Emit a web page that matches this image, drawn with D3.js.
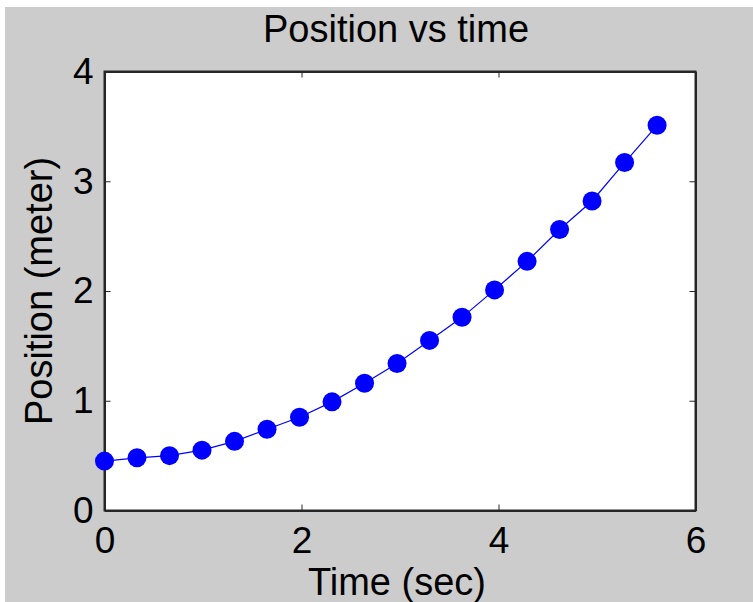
<!DOCTYPE html>
<meta charset="utf-8">
<html lang="en">
<style>
body { margin: 0; background: #fff; }
.axis text { font: 37px "Liberation Sans", Arial, sans-serif; fill: #000; }
.axis path, .axis line { stroke: #262626; }
.label { font: 38px "Liberation Sans", Arial, sans-serif; fill: #000; }
.line { fill: none; stroke: #00f; stroke-width: 1.2px; }
.dot { fill: #00f; }
</style>
<body>
<div id="chart"></div>
<script src="https://cdn.jsdelivr.net/npm/d3@7"></script>
<script>
// time (sec) and position (meter)
var timeVals = [0, 0.33, 0.66, 0.99, 1.32, 1.65, 1.98, 2.31, 2.64, 2.97, 3.30, 3.63, 3.96, 4.29, 4.62, 4.95, 5.28, 5.61];
var posVals  = [0.45, 0.48, 0.50, 0.55, 0.63, 0.74, 0.85, 0.99, 1.16, 1.34, 1.55, 1.76, 2.01, 2.27, 2.56, 2.82, 3.17, 3.51];
var xTicks = [0, 2, 4, 6];
var yTicks = [0, 1, 2, 3, 4];

var W = 753, H = 602,
    margin = {top: 71.5, right: 57.5, bottom: 91.5, left: 104.5},
    width = W - margin.left - margin.right,
    height = H - margin.top - margin.bottom;

var data = timeVals.map(function(t, i) { return {t: t, p: posVals[i]}; });

var svg = d3.select("#chart").append("svg")
    .attr("width", W)
    .attr("height", H);

// figure background
svg.append("rect")
    .attr("x", 5).attr("y", 7)
    .attr("width", W - 5).attr("height", H - 7)
    .attr("fill", "#cccccc");

var g = svg.append("g")
    .attr("transform", "translate(" + margin.left + "," + margin.top + ")");

g.append("rect")
    .attr("width", width).attr("height", height)
    .attr("fill", "#fff");

var x = d3.scaleLinear().domain([0, 6]).range([0, width]);
var y = d3.scaleLinear().domain([0, 4]).range([height, 0]);

// axes with inward ticks, mirrored on top and right
g.append("g")
    .attr("class", "axis")
    .attr("transform", "translate(0," + height + ")")
    .call(d3.axisBottom(x).tickValues(xTicks).tickSizeInner(-6).tickSizeOuter(0).tickPadding(16).tickFormat(d3.format("d")));
g.append("g")
    .attr("class", "axis")
    .call(d3.axisTop(x).tickValues(xTicks).tickSizeInner(-6).tickSizeOuter(0).tickFormat(""));
g.append("g")
    .attr("class", "axis")
    .call(d3.axisLeft(y).tickValues(yTicks).tickSizeInner(-6).tickSizeOuter(0).tickPadding(11).tickFormat(d3.format("d")));
g.append("g")
    .attr("class", "axis")
    .attr("transform", "translate(" + width + ",0)")
    .call(d3.axisRight(y).tickValues(yTicks).tickSizeInner(-6).tickSizeOuter(0).tickFormat(""));

g.selectAll(".axis path").attr("stroke-width", 2);
g.selectAll(".axis text").attr("fill", "#000");

// box outline
g.append("rect")
    .attr("width", width).attr("height", height)
    .attr("fill", "none")
    .attr("stroke", "#262626")
    .attr("stroke-width", 2);

var line = d3.line()
    .x(function(d) { return x(d.t); })
    .y(function(d) { return y(d.p); });

g.append("path")
    .datum(data)
    .attr("class", "line")
    .attr("d", line);

g.selectAll(".dot")
    .data(data)
  .enter().append("circle")
    .attr("class", "dot")
    .attr("cx", function(d) { return x(d.t); })
    .attr("cy", function(d) { return y(d.p); })
    .attr("r", 9.5);

// titles
svg.append("text")
    .attr("class", "label")
    .attr("x", margin.left + width / 2 - 4)
    .attr("y", 42)
    .attr("text-anchor", "middle")
    .text("Position vs time");

svg.append("text")
    .attr("class", "label")
    .attr("x", margin.left + width / 2 - 3)
    .attr("y", 595)
    .attr("text-anchor", "middle")
    .text("Time (sec)");

svg.append("text")
    .attr("class", "label")
    .attr("transform", "translate(52," + (margin.top + height / 2) + ") rotate(-90)")
    .attr("text-anchor", "middle")
    .text("Position (meter)");
</script>
</body>
</html>
